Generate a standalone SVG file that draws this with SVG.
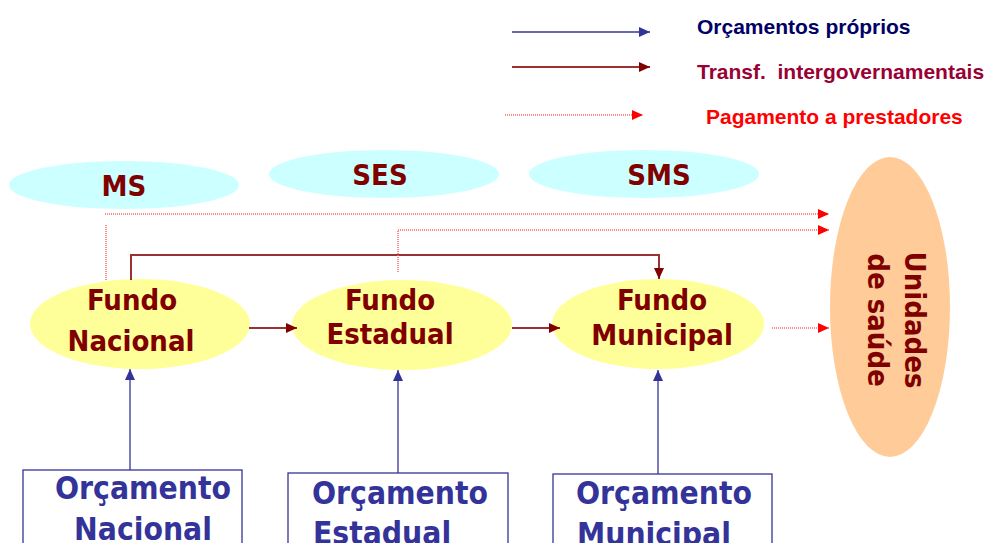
<svg xmlns="http://www.w3.org/2000/svg" width="990" height="543" viewBox="0 0 990 543">
<style>
.lg{font-family:"Liberation Sans",Arial,sans-serif;font-weight:bold;font-size:21px}
.nt{font-family:"DejaVu Sans Condensed","DejaVu Sans",sans-serif;font-stretch:condensed;font-weight:bold;font-size:29px;fill:#800000;text-anchor:middle}
.bt{font-family:"DejaVu Sans Condensed","DejaVu Sans",sans-serif;font-stretch:condensed;font-weight:bold;font-size:31.5px;fill:#333399;text-anchor:middle}
.cy{fill:#CCFFFF}
.ye{fill:#FFFF99}
.bx{fill:#FFFFFF;stroke:#333399;stroke-width:1.3}
.own{stroke:#333399;stroke-width:1.3;fill:none}
.tr{stroke:#993333;stroke-width:2;fill:none}
.pay{stroke:#FF6666;stroke-width:1.5;stroke-dasharray:1 1;fill:none}
</style>
<defs>
<marker id="mb" markerUnits="userSpaceOnUse" markerWidth="11" markerHeight="10" refX="11" refY="5" orient="auto"><path d="M0,0 L11,5 L0,10 z" fill="#333399"/></marker>
<marker id="md" markerUnits="userSpaceOnUse" markerWidth="11" markerHeight="10" refX="11" refY="5" orient="auto"><path d="M0,0 L11,5 L0,10 z" fill="#800000"/></marker>
<marker id="mr" markerUnits="userSpaceOnUse" markerWidth="11" markerHeight="10" refX="11" refY="5" orient="auto"><path d="M0,0 L11,5 L0,10 z" fill="#FF0000"/></marker>
</defs>
<rect width="990" height="543" fill="#FFFFFF"/>
<g id="legend">
<line class="own" x1="512" y1="32" x2="650" y2="32" marker-end="url(#mb)"/>
<line class="tr" x1="512" y1="67" x2="650" y2="67" marker-end="url(#md)"/>
<line class="pay" x1="505" y1="115" x2="643" y2="115" marker-end="url(#mr)"/>
<text class="lg" x="697" y="34" fill="#000066">Orçamentos próprios</text>
<text class="lg" x="697" y="79" fill="#990033" xml:space="preserve">Transf.  intergovernamentais</text>
<text class="lg" x="706" y="124" fill="#FF0000">Pagamento a prestadores</text>
</g>
<g id="ms"><ellipse class="cy" cx="124" cy="185" rx="115" ry="24"/><text class="nt" x="124" y="196">MS</text></g>
<g id="ses"><ellipse class="cy" cx="384" cy="174" rx="115" ry="24"/><text class="nt" x="380" y="185">SES</text></g>
<g id="sms"><ellipse class="cy" cx="644" cy="174" rx="115" ry="24"/><text class="nt" x="659" y="185">SMS</text></g>
<g id="fundo-nacional"><ellipse class="ye" cx="140" cy="324" rx="110" ry="45"/><text class="nt" x="132" y="310">Fundo</text><text class="nt" x="131" y="351">Nacional</text></g>
<g id="fundo-estadual"><ellipse class="ye" cx="402" cy="325" rx="110" ry="45"/><text class="nt" x="390" y="310">Fundo</text><text class="nt" x="390" y="344">Estadual</text></g>
<g id="fundo-municipal"><ellipse class="ye" cx="658" cy="324" rx="106" ry="45"/><text class="nt" x="662" y="310">Fundo</text><text class="nt" x="662" y="345">Municipal</text></g>
<g id="unidades"><ellipse cx="890" cy="307" rx="60" ry="150" fill="#FFCC99"/>
<text class="nt" transform="translate(905,320) rotate(90)">Unidades</text>
<text class="nt" transform="translate(868,320) rotate(90)">de saúde</text></g>
<g id="orc-nacional"><rect class="bx" x="23" y="470" width="219" height="80"/><text class="bt" x="143" y="499">Orçamento</text><text class="bt" x="143" y="540">Nacional</text></g>
<g id="orc-estadual"><rect class="bx" x="288" y="473" width="220" height="80"/><text class="bt" x="400" y="504">Orçamento</text><text class="bt" x="382" y="544">Estadual</text></g>
<g id="orc-municipal"><rect class="bx" x="553" y="474" width="219" height="80"/><text class="bt" x="664" y="504">Orçamento</text><text class="bt" x="654" y="545">Municipal</text></g>
<g id="connectors">
<line class="own" x1="130" y1="470" x2="130" y2="369" marker-end="url(#mb)"/>
<line class="own" x1="398" y1="473" x2="398" y2="370" marker-end="url(#mb)"/>
<line class="own" x1="658" y1="474" x2="658" y2="370" marker-end="url(#mb)"/>
<line class="tr" x1="249" y1="328" x2="297" y2="328" marker-end="url(#md)"/>
<line class="tr" x1="512" y1="328" x2="560" y2="328" marker-end="url(#md)"/>
<polyline class="tr" points="131,280 131,255 659,255 659,279" marker-end="url(#md)"/>
<line class="pay" x1="106" y1="280" x2="106" y2="224"/>
<polyline class="pay" points="105,214 829,214" marker-end="url(#mr)"/>
<polyline class="pay" points="398,272 398,230 829,230" marker-end="url(#mr)"/>
<line class="pay" x1="772" y1="328" x2="829" y2="328" marker-end="url(#mr)"/>
</g>
</svg>
